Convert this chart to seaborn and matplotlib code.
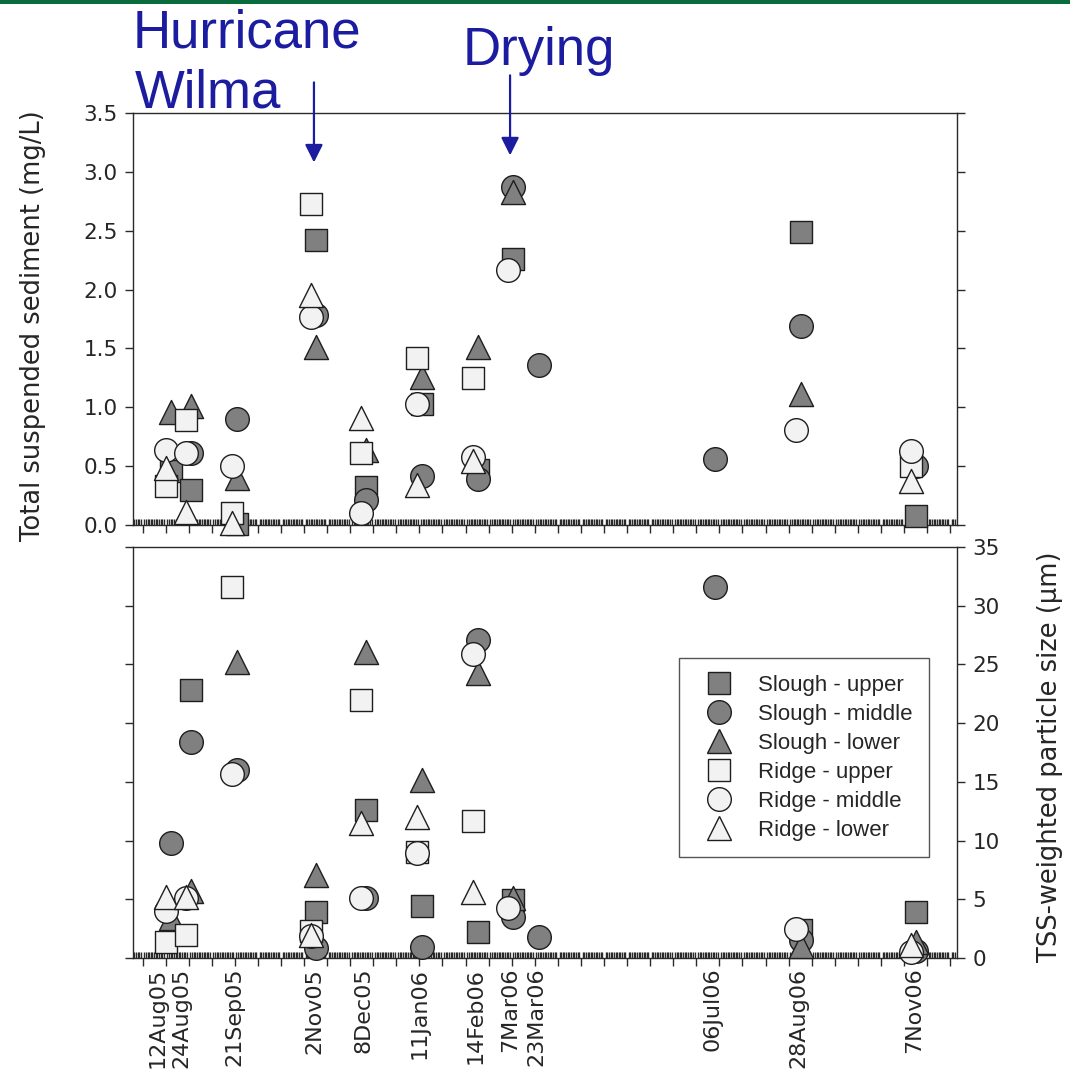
import numpy as np
import pandas as pd
import matplotlib
matplotlib.use("Agg")
import matplotlib.pyplot as plt
from matplotlib.lines import Line2D
from matplotlib.patches import Rectangle
from matplotlib.ticker import FixedLocator, NullLocator, FormatStrFormatter
from matplotlib.transforms import ScaledTranslation
import seaborn as sns

# ---------------------------------------------------------------- data
sample_labels = ["12Aug05", "24Aug05", "21Sep05", "2Nov05", "8Dec05", "11Jan06",
                 "14Feb06", "7Mar06", "23Mar06", "06Jul06", "28Aug06", "7Nov06"]
# sampling time, days after 12 Aug 2005
sample_day = [0, 12, 40, 88, 118, 152, 186, 207, 223, 330, 382, 452]

nan = np.nan
# total suspended sediment (mg/L)
tss_slough_upper = [0.46, 0.30, 0.01, 2.42, 0.32, 1.03, 0.47, 2.26, nan, nan, 2.49, 0.08]
tss_slough_middle = [nan, 0.61, 0.90, 1.78, 0.21, 0.42, 0.39, 2.87, 1.36, 0.56, 1.69, 0.50]
tss_slough_lower = [0.96, 1.01, 0.40, 1.51, 0.64, 1.26, 1.51, 2.83, nan, nan, 1.11, nan]
tss_ridge_upper = [0.33, 0.89, 0.10, 2.73, 0.61, 1.42, 1.25, nan, nan, nan, nan, 0.50]
tss_ridge_middle = [0.64, 0.61, 0.50, 1.77, 0.10, 1.03, 0.58, 2.17, nan, nan, 0.81, 0.63]
tss_ridge_lower = [0.48, 0.11, 0.02, 1.95, 0.91, 0.34, 0.54, nan, nan, nan, nan, 0.37]

# TSS-weighted particle size (um)
size_slough_upper = [nan, 22.8, nan, 3.9, 12.6, 4.4, 2.2, 4.9, nan, nan, 2.4, 3.9]
size_slough_middle = [9.8, 18.4, 16.0, 0.85, 5.1, 0.95, 27.1, 3.5, 1.8, 31.6, 1.5, 0.6]
size_slough_lower = [3.4, 5.7, 25.2, 7.1, 26.1, 15.2, 24.3, 5.1, nan, nan, 1.0, 1.4]
size_ridge_upper = [1.4, 2.0, 31.6, 2.3, 22.0, 9.0, 11.7, nan, nan, nan, nan, nan]
size_ridge_middle = [4.0, 5.1, 15.7, 1.9, 5.1, 8.9, 25.9, 4.3, nan, nan, 2.45, 0.55]
size_ridge_lower = [5.2, 5.2, nan, 2.0, 11.5, 12.0, 5.65, nan, nan, nan, nan, 1.1]

series_names = ["Slough - upper", "Slough - middle", "Slough - lower",
                "Ridge - upper", "Ridge - middle", "Ridge - lower"]
tss_values = [tss_slough_upper, tss_slough_middle, tss_slough_lower,
              tss_ridge_upper, tss_ridge_middle, tss_ridge_lower]
size_values = [size_slough_upper, size_slough_middle, size_slough_lower,
               size_ridge_upper, size_ridge_middle, size_ridge_lower]

# ---------------------------------------------------------------- styles
DARK = "#808080"
LIGHT = "#f2f2f2"
EDGE = "#1e1e1e"
BLUE = "#1c1ca0"
marker_of = {"upper": "s", "middle": "o", "lower": "^"}
area_of = {"s": 235, "o": 290, "^": 300}
fill_of = {"Slough": DARK, "Ridge": LIGHT}
shift_of = {"Slough": 1.5, "Ridge": -1.5}   # small dodge between sites


def long_table(values):
    rows = []
    for name, vals in zip(series_names, values):
        site, level = [p.strip() for p in name.split("-")]
        for d, v in zip(sample_day, vals):
            if not np.isnan(v):
                rows.append({"series": name, "site": site, "level": level,
                             "day": d + shift_of[site], "value": v})
    return pd.DataFrame(rows)


tss_df = long_table(tss_values)
size_df = long_table(size_values)

sns.set_style("ticks")
plt.rcParams["font.family"] = ["DejaVu Sans"]

W, H = 1070, 1085
fig = plt.figure(figsize=(W / 100, H / 100), dpi=100)


def px_axes(left, top, right, bottom):
    return fig.add_axes([left / W, 1 - bottom / H, (right - left) / W, (bottom - top) / H])


ax_t = px_axes(133, 113, 957, 525)
ax_b = px_axes(133, 547, 957, 958)

XMIN, XMAX = -21.8, 478.2


def draw_panel(ax, df):
    for z, name in enumerate(series_names):
        sub = df[df["series"] == name]
        site, level = [p.strip() for p in name.split("-")]
        m = marker_of[level]
        sns.scatterplot(data=sub, x="day", y="value", ax=ax, marker=m,
                        s=area_of[m], color=fill_of[site], edgecolor=EDGE,
                        linewidth=1.0, legend=False, zorder=3 + z, clip_on=False)
    ax.set_xlim(XMIN, XMAX)
    ax.set_xlabel("")
    ax.set_ylabel("")
    for sp in ax.spines.values():
        sp.set_visible(True)
        sp.set_color("#2a2a2a")
        sp.set_linewidth(1.0)
    ax.xaxis.set_major_locator(FixedLocator(np.arange(-16, 478, 14)))
    ax.xaxis.set_minor_locator(FixedLocator(np.arange(-21, 478, 1)))
    ax.tick_params(axis="x", which="major", bottom=True, top=False, direction="out",
                   length=6, width=1.0, color="#2a2a2a", labelbottom=False)
    ax.tick_params(axis="x", which="minor", bottom=True, top=False, direction="in",
                   length=4, width=1.0, color="#2a2a2a")
    ax.tick_params(axis="y", which="major", left=True, right=True, direction="out",
                   length=6, width=1.0, color="#2a2a2a", labelsize=15.5, pad=5)


draw_panel(ax_t, tss_df)
ax_t.set_ylim(0, 3.5)
ax_t.set_yticks(np.arange(0, 3.51, 0.5))
ax_t.yaxis.set_major_formatter(FormatStrFormatter("%.1f"))
ax_t.tick_params(axis="y", labelleft=True, labelright=False)

draw_panel(ax_b, size_df)
ax_b.set_ylim(0, 35)
ax_b.set_yticks(np.arange(0, 36, 5))
ax_b.tick_params(axis="y", labelleft=False, labelright=True)

# sampling-date labels under the lower panel
sec = ax_b.secondary_xaxis("bottom")
sec.set_xticks(sample_day, labels=sample_labels)
sec.tick_params(axis="x", length=0, pad=7, labelsize=16, labelrotation=90)
sec.spines["bottom"].set_visible(False)
sec.xaxis.set_minor_locator(NullLocator())
# the two August labels are nudged left so they do not collide
for lab, dx in zip(sec.get_xticklabels()[:2], (-0.115, -0.07)):
    lab.set_transform(lab.get_transform() + ScaledTranslation(dx, 0, fig.dpi_scale_trans))

# axis titles
fig.text(33 / W, 1 - 326 / H, "Total suspended sediment (mg/L)", rotation=90,
         ha="center", va="center", fontsize=18.5)
fig.text(1050 / W, 1 - 757 / H, "TSS-weighted particle size (\u00b5m)", rotation=90,
         ha="center", va="center", fontsize=18.5)

# legend
handles = []
for name in series_names:
    site, level = [p.strip() for p in name.split("-")]
    m = marker_of[level]
    handles.append(Line2D([], [], linestyle="none", marker=m,
                          markersize=np.sqrt(area_of[m]), markerfacecolor=fill_of[site],
                          markeredgecolor=EDGE, markeredgewidth=1.0))
leg = ax_b.legend(handles, series_names, loc="upper left",
                  bbox_to_anchor=(0.6626, 0.7299), borderaxespad=0,
                  frameon=True, fancybox=False, framealpha=1, edgecolor="#555555",
                  prop={"family": "Liberation Sans", "size": 16},
                  borderpad=0.75, labelspacing=0.36, handlelength=2.1,
                  handletextpad=0.7)
leg.get_frame().set_linewidth(1.0)
leg.set_zorder(20)

# event annotations
text_font = {"family": "Liberation Sans", "size": 38, "color": BLUE}
fig.text(133 / W, 1 - 47 / H, "Hurricane", ha="left", va="baseline", **text_font)
fig.text(135 / W, 1 - 108 / H, "Wilma", ha="left", va="baseline", **text_font)
fig.text(463 / W, 1 - 65 / H, "Drying", ha="left", va="baseline", **text_font)

arrow = dict(arrowstyle="-|>,head_length=0.4,head_width=0.2", color=BLUE, lw=1.6,
             mutation_scale=27, shrinkA=0, shrinkB=0)
x_wilma = sample_day[sample_labels.index("2Nov05")]
x_dry = sample_day[sample_labels.index("7Mar06")]
ax_t.annotate("", xy=(x_wilma, 3.08), xytext=(x_wilma, 3.76), arrowprops=arrow,
              annotation_clip=False)
ax_t.annotate("", xy=(x_dry, 3.14), xytext=(x_dry, 3.82), arrowprops=arrow,
              annotation_clip=False)

# green rule along the top edge
fig.patches.append(Rectangle((0, 1 - 4 / H), 1, 4 / H, transform=fig.transFigure,
                             facecolor="#0a6b3c", edgecolor="none", zorder=10))

fig.savefig("out.png", dpi=100, facecolor="white")
